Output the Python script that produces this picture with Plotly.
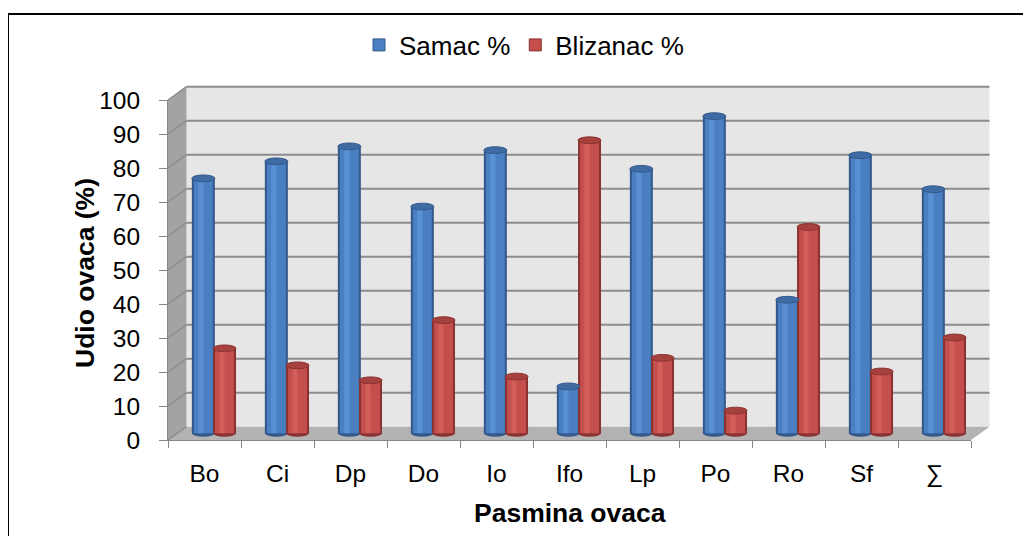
import plotly.graph_objects as go

categories = ["Bo", "Ci", "Dp", "Do", "Io", "Ifo", "Lp", "Po", "Ro", "Sf", "∑"]
samac = [75.0, 80.0, 84.4, 66.7, 83.3, 13.8, 77.8, 93.3, 39.3, 81.8, 71.8]
blizanac = [25.0, 20.0, 15.6, 33.3, 16.7, 86.2, 22.2, 6.7, 60.7, 18.2, 28.2]
y_ticks = list(range(0, 101, 10))
series_names = ["Samac %", "Blizanac %"]

PAGE_OFF = 8               # default body margin of the html page
W, H = 1031 - PAGE_OFF, 536 - PAGE_OFF


def fx(px):
    return (px - PAGE_OFF) / W


def fy(py):
    return 1 - (py - PAGE_OFF) / H


# geometry (screen pixels)
X0, X1 = 168, 971          # front x-axis extent
Y0, Y100 = 440, 100        # front y-axis: value 0 and 100
DX, DY = 18.5, -13.3       # depth offset of back wall
PPU = (Y0 - Y100) / 100.0  # pixels per unit


def ypx(v):
    return Y0 - v * PPU


FONT = "Liberation Sans, Arial, sans-serif"

fig = go.Figure()

styles = [
    dict(dark="#34598C", body="#4A80C2", light="#6199DA", top="#3E6BA3", offset=-0.30),
    dict(dark="#8A3331", body="#C44F4C", light="#D9685F", top="#A6413E", offset=-0.01),
]
BW = 0.315

shapes = []
# outer border
shapes.append(dict(type="rect", xref="paper", yref="paper", x0=fx(8), x1=fx(1045),
                   y0=fy(14), y1=fy(570), line=dict(color="#000000", width=2),
                   fillcolor="rgba(0,0,0,0)", layer="below"))
# back wall
shapes.append(dict(type="rect", xref="paper", yref="paper",
                   x0=fx(X0 + DX), x1=fx(X1 + DX), y0=fy(Y0 + DY), y1=fy(Y100 + DY),
                   fillcolor="#E6E6E6", line=dict(width=0), layer="below"))
# side wall
shapes.append(dict(type="path", xref="paper", yref="paper",
                   path=f"M {fx(X0)} {fy(Y100)} L {fx(X0 + DX)} {fy(Y100 + DY)} "
                        f"L {fx(X0 + DX)} {fy(Y0 + DY)} L {fx(X0)} {fy(Y0)} Z",
                   fillcolor="#A3A3A3", line=dict(width=0), layer="below"))
# floor
shapes.append(dict(type="path", xref="paper", yref="paper",
                   path=f"M {fx(X0)} {fy(Y0)} L {fx(X0 + DX)} {fy(Y0 + DY)} "
                        f"L {fx(X1 + DX)} {fy(Y0 + DY)} L {fx(X1)} {fy(Y0)} Z",
                   fillcolor="#B3B3B3", line=dict(width=0), layer="below"))
# gridlines on side wall and back wall
for t in y_ticks:
    shapes.append(dict(type="line", xref="paper", yref="paper",
                       x0=fx(X0), y0=fy(ypx(t)), x1=fx(X0 + DX), y1=fy(ypx(t) + DY),
                       line=dict(color="#8C8C8C", width=1.5), layer="below"))
    if t > 0:
        shapes.append(dict(type="line", xref="paper", yref="paper",
                           x0=fx(X0 + DX), y0=fy(ypx(t) + DY), x1=fx(X1 + DX), y1=fy(ypx(t) + DY),
                           line=dict(color="#8C8C8C", width=2), layer="below"))

# invisible trace so that the front axes are drawn
fig.add_trace(go.Scatter(x=categories, y=[None] * len(categories), xaxis="x", yaxis="y",
                         mode="markers", showlegend=False, hoverinfo="skip"))

for values, name, st in zip([samac, blizanac], series_names, styles):
    o = st["offset"]
    # dark base (edges)
    fig.add_trace(go.Bar(x=categories, y=values, xaxis="x2", yaxis="y2",
                         width=BW, offset=o, marker=dict(color=st["dark"], line=dict(width=0)),
                         showlegend=False, hoverinfo="skip"))
    # body
    fig.add_trace(go.Bar(x=categories, y=values, xaxis="x2", yaxis="y2", name=name,
                         width=BW * 0.82, offset=o + BW * 0.09,
                         marker=dict(color=st["body"], line=dict(width=0)),
                         showlegend=False))
    # highlight
    fig.add_trace(go.Bar(x=categories, y=values, xaxis="x2", yaxis="y2",
                         width=BW * 0.22, offset=o + BW * 0.28,
                         marker=dict(color=st["light"], line=dict(width=0), opacity=0.7),
                         showlegend=False, hoverinfo="skip"))
    for i, v in enumerate(values):
        # bottom rounding
        shapes.append(dict(type="circle", xref="x2", yref="y2",
                           x0=i + o, x1=i + o + BW, y0=-1.0, y1=1.0,
                           fillcolor=st["dark"], line=dict(width=0), layer="below"))
        # top face
        shapes.append(dict(type="circle", xref="x2", yref="y2",
                           x0=i + o, x1=i + o + BW, y0=v - 1.0, y1=v + 1.0,
                           fillcolor=st["top"], line=dict(color=st["dark"], width=1),
                           layer="above"))

# legend-only traces
for name, st in zip(series_names, styles):
    fig.add_trace(go.Bar(x=[None], y=[None], name=name, xaxis="x2", yaxis="y2",
                         marker=dict(color=st["body"], line=dict(color=st["dark"], width=1))))

fig.update_layout(
    width=W, height=H,
    margin=dict(l=0, r=0, t=0, b=0, autoexpand=False),
    paper_bgcolor="white",
    plot_bgcolor="rgba(0,0,0,0)",
    barmode="overlay",
    font=dict(family=FONT, color="#000000"),
    shapes=shapes,
    legend=dict(orientation="h", x=fx(524), xanchor="center", y=fy(45), yanchor="middle",
                font=dict(size=26, family=FONT), bgcolor="rgba(0,0,0,0)",
                itemwidth=30, tracegroupgap=0),
    xaxis=dict(domain=[fx(X0), fx(X1)], anchor="y", type="category",
               categoryorder="array", categoryarray=categories,
               range=[-0.5, len(categories) - 0.5], automargin=False,
               showline=True, linecolor="#868686", linewidth=1,
               ticks="outside", tickson="boundaries", ticklen=7, tickcolor="#868686",
               tickfont=dict(size=24.5, family=FONT), showgrid=False, zeroline=False,
               ticklabelstandoff=12, fixedrange=True),
    yaxis=dict(domain=[fy(Y0), fy(Y100)], anchor="x", range=[0, 100], automargin=False,
               tickvals=y_ticks, showline=True, linecolor="#868686", linewidth=1,
               ticks="outside", ticklen=8, tickcolor="#868686",
               tickfont=dict(size=24.5, family=FONT), showgrid=False, zeroline=False,
               ticklabelstandoff=14, fixedrange=True),
    xaxis2=dict(domain=[fx(X0 + DX / 2), fx(X1 + DX / 2)], anchor="y2", type="category",
                categoryorder="array", categoryarray=categories, automargin=False,
                range=[-0.5, len(categories) - 0.5], visible=False, fixedrange=True),
    yaxis2=dict(domain=[fy(Y0 + DY / 2 + 2 * PPU), fy(Y100 + DY / 2)], anchor="x2",
                range=[-2, 100], visible=False, fixedrange=True, automargin=False),
    annotations=[
        dict(text="<b>Udio ovaca (%)</b>", xref="paper", yref="paper",
             x=fx(85), y=fy(273), xanchor="center", yanchor="middle", textangle=-90,
             showarrow=False, font=dict(size=26.5, family=FONT)),
        dict(text="<b>Pasmina ovaca</b>", xref="paper", yref="paper",
             x=fx(570), y=fy(513), xanchor="center", yanchor="middle",
             showarrow=False, font=dict(size=26.5, family=FONT)),
    ],
)

fig.write_html("out.html")
